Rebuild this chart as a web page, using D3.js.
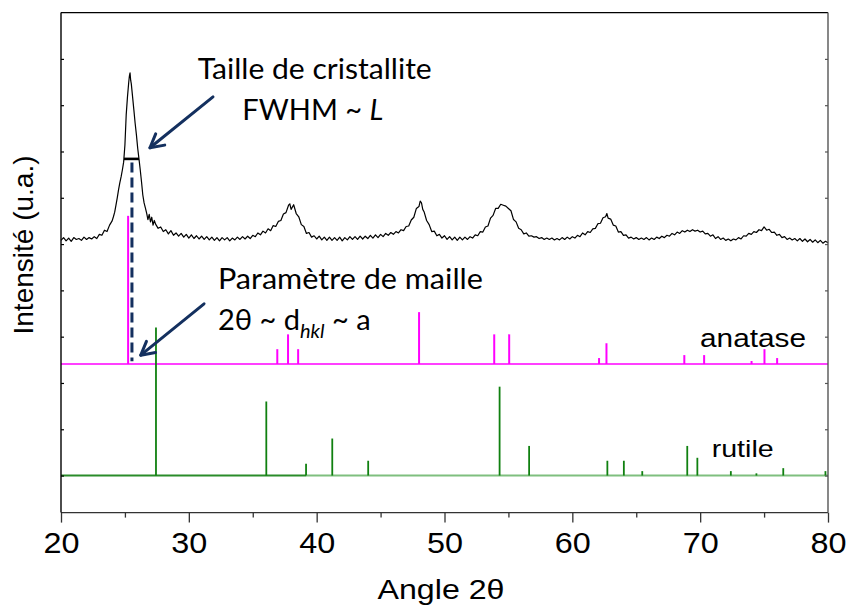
<!DOCTYPE html>
<html><head><meta charset="utf-8">
<script src="https://cdn.jsdelivr.net/npm/d3@7"></script>
<style>body{margin:0;background:#fff}svg{display:block}</style>
</head><body>
<svg id="chart" width="848" height="605"></svg>
<script>
// ---------- data ----------
const xTicks = [20, 30, 40, 50, 60, 70, 80];
const xMinorTicks = [25, 35, 45, 55, 65, 75];
const yTicks = [0, 100, 200, 300, 400, 500, 600, 700, 800, 900];

// measured XRD pattern [2theta, intensity (a.u.)]
const expPattern = [
 [20.0,508],[20.2,514],[20.4,507],[20.6,513],[20.8,506],[21.0,514],[21.2,510],[21.4,512],[21.6,508],[21.8,515],
 [22.0,510],[22.2,514],[22.4,511],[22.6,516],[22.8,512],[23.0,521],[23.2,519],[23.4,530],[23.6,527],[23.8,541],
 [24.0,550],[24.1,559],[24.2,569],[24.3,584],[24.4,600],[24.5,617],[24.6,632],[24.7,645],[24.8,660],[24.9,677],
 [25.0,714],[25.1,779],[25.2,818],[25.3,850],[25.35,863],[25.4,870],[25.45,854],[25.5,846],[25.6,818],[25.7,790],
 [25.8,761],[25.9,736],[26.0,707],[26.1,684],[26.2,660],[26.3,634],[26.4,606],[26.5,589],[26.6,578],[26.7,567],
 [26.8,553],[26.9,564],[27.0,548],[27.1,558],[27.2,541],[27.3,551],[27.4,543],[27.6,534],[27.8,537],[28.0,527],
 [28.2,531],[28.4,522],[28.6,529],[28.8,519],[29.0,524],[29.2,517],[29.4,523],[29.6,515],[29.8,521],[30.0,513],
 [30.2,520],[30.4,512],[30.6,518],[30.8,511],[31.0,517],[31.2,510],[31.4,516],[31.6,509],[31.8,515],[32.0,508],
 [32.2,514],[32.4,507],[32.6,514],[32.8,509],[33.0,514],[33.2,507],[33.4,513],[33.6,509],[33.8,515],[34.0,510],
 [34.2,516],[34.4,511],[34.6,517],[34.8,512],[35.0,519],[35.2,516],[35.4,524],[35.6,520],[35.8,528],[36.0,524],
 [36.2,533],[36.4,529],[36.6,540],[36.8,538],[37.0,549],[37.2,551],[37.4,565],[37.6,568],[37.8,584],[37.9,587],
 [38.0,575],[38.2,585],[38.4,566],[38.6,559],[38.8,542],[39.0,538],[39.2,523],[39.4,525],[39.6,515],[39.8,518],
 [40.0,511],[40.2,517],[40.4,509],[40.6,515],[40.8,508],[41.0,515],[41.2,508],[41.4,514],[41.6,508],[41.8,515],
 [42.0,507],[42.2,514],[42.4,509],[42.6,516],[42.8,510],[43.0,516],[43.2,510],[43.4,517],[43.6,511],[43.8,517],
 [44.0,512],[44.2,519],[44.4,513],[44.6,520],[44.8,514],[45.0,521],[45.2,516],[45.4,523],[45.6,519],[45.8,525],
 [46.0,521],[46.2,527],[46.4,524],[46.6,531],[46.8,529],[47.0,538],[47.2,539],[47.4,552],[47.6,558],[47.8,577],
 [48.0,581],[48.1,593],[48.2,589],[48.3,575],[48.4,570],[48.6,551],[48.8,542],[49.0,527],[49.2,528],[49.4,518],
 [49.6,521],[49.8,513],[50.0,518],[50.2,510],[50.4,516],[50.6,509],[50.8,515],[51.0,508],[51.2,515],[51.4,509],
 [51.6,515],[51.8,510],[52.0,516],[52.2,513],[52.4,520],[52.6,518],[52.8,527],[53.0,526],[53.2,537],[53.4,539],
 [53.6,556],[53.8,562],[54.0,577],[54.2,577],[54.4,586],[54.6,584],[54.8,582],[55.0,577],[55.2,572],[55.4,553],
 [55.6,548],[55.8,534],[56.0,531],[56.2,522],[56.4,524],[56.6,517],[56.8,518],[57.0,515],[57.2,516],[57.4,512],
 [57.6,514],[57.8,510],[58.0,513],[58.2,510],[58.4,513],[58.6,509],[58.8,512],[59.0,509],[59.2,514],[59.4,510],
 [59.6,515],[59.8,511],[60.0,516],[60.2,513],[60.4,519],[60.6,516],[60.8,524],[61.0,520],[61.2,527],[61.4,525],
 [61.6,533],[61.8,534],[62.0,544],[62.2,545],[62.4,557],[62.6,559],[62.7,566],[62.8,556],[63.0,554],[63.2,541],
 [63.4,539],[63.6,526],[63.8,527],[64.0,519],[64.2,520],[64.4,513],[64.6,515],[64.8,511],[65.0,514],[65.2,510],
 [65.4,513],[65.6,510],[65.8,514],[66.0,509],[66.2,513],[66.4,510],[66.6,515],[66.8,512],[67.0,517],[67.2,514],
 [67.4,519],[67.6,517],[67.8,523],[68.0,520],[68.2,526],[68.4,523],[68.6,529],[68.8,526],[69.0,530],[69.2,527],
 [69.4,531],[69.6,528],[69.8,530],[70.0,526],[70.2,528],[70.4,522],[70.6,523],[70.8,517],[71.0,520],[71.2,512],
 [71.4,516],[71.6,510],[71.8,513],[72.0,508],[72.2,511],[72.4,507],[72.6,511],[72.8,509],[73.0,514],[73.2,511],
 [73.4,518],[73.6,517],[73.8,523],[74.0,521],[74.2,527],[74.4,525],[74.6,531],[74.8,529],[75.0,537],[75.2,530],
 [75.4,532],[75.6,525],[75.8,526],[76.0,519],[76.2,521],[76.4,514],[76.6,516],[76.8,510],[77.0,513],[77.2,509],
 [77.4,512],[77.6,507],[77.8,512],[78.0,506],[78.2,511],[78.4,505],[78.6,510],[78.8,504],[79.0,509],[79.2,503],
 [79.4,508],[79.6,502],[79.8,506],[80.0,503]
];

// reference stick patterns (relative intensity)
const anataseAngle     = [25.25, 36.92, 37.76, 38.55, 48.01, 53.89, 55.06, 62.09, 62.67, 68.76, 70.31, 74.02, 75.03, 76.02];
const anataseIntensity = [100, 10, 20, 10, 35, 20, 20, 4, 14, 6, 6, 2, 10, 4];
const rutileAngle      = [27.43, 36.06, 39.17, 41.22, 44.03, 54.31, 56.62, 62.74, 64.03, 65.47, 68.99, 69.78, 72.40, 74.40, 76.50, 79.80];
const rutileIntensity  = [100, 50, 8, 25, 10, 60, 20, 10, 10, 3, 20, 12, 3, 1.5, 5, 3];
const anataseOffset = 241;
const rutileOffset = 0;

// annotation anchors (data units)
const fwhmRange = [24.93, 26.10];
const fwhmLevel = 684;
const peakCenter = 25.55;
const arrowCrystal = [[31.89, 818], [26.96, 708]];
const arrowLattice = [[31.19, 371], [26.24, 260]];

// ---------- drawing ----------
const svg = d3.select("#chart");
const L = 61, R = 828, T = 12.6, B = 512.6;
const x = d3.scaleLinear().domain([20, 80]).range([L, R]);
const y = d3.scaleLinear().domain([-80, 1000]).range([B, T]);
const stickH = d3.scaleLinear().domain([0, 100]).range([0, 320]);

const navy = "#14305f";

// anatase
svg.append("line").attr("x1", x(20)).attr("x2", x(80))
  .attr("y1", y(anataseOffset)).attr("y2", y(anataseOffset))
  .attr("stroke", "#ff00ff").attr("stroke-width", 1.5);
svg.append("g").selectAll("line").data(anataseAngle).join("line")
  .attr("x1", d => x(d)).attr("x2", d => x(d))
  .attr("y1", y(anataseOffset))
  .attr("y2", (d, i) => y(anataseOffset + stickH(anataseIntensity[i])))
  .attr("stroke", "#ff00ff").attr("stroke-width", 2);

// rutile
svg.append("line").attr("x1", x(20)).attr("x2", x(39.2))
  .attr("y1", y(rutileOffset)).attr("y2", y(rutileOffset))
  .attr("stroke", "#2a8c2a").attr("stroke-width", 2);
svg.append("line").attr("x1", x(39.2)).attr("x2", x(80))
  .attr("y1", y(rutileOffset)).attr("y2", y(rutileOffset))
  .attr("stroke", "#7fbf7f").attr("stroke-width", 2);
svg.append("g").selectAll("line").data(rutileAngle).join("line")
  .attr("x1", d => x(d)).attr("x2", d => x(d))
  .attr("y1", y(rutileOffset))
  .attr("y2", (d, i) => y(rutileOffset + stickH(rutileIntensity[i])))
  .attr("stroke", "#108010").attr("stroke-width", 1.8);

// experimental pattern
svg.append("path").datum(expPattern)
  .attr("d", d3.line().x(d => x(d[0])).y(d => y(d[1])))
  .attr("fill", "none").attr("stroke", "#000").attr("stroke-width", 1.2)
  .attr("stroke-linejoin", "round");

// FWHM bar and dashed line
svg.append("line").attr("x1", x(fwhmRange[0])).attr("x2", x(fwhmRange[1]))
  .attr("y1", y(fwhmLevel)).attr("y2", y(fwhmLevel))
  .attr("stroke", "#000").attr("stroke-width", 2.6);
svg.append("line").attr("x1", x(peakCenter)).attr("x2", x(peakCenter))
  .attr("y1", y(fwhmLevel - 8)).attr("y2", y(anataseOffset + 6))
  .attr("stroke", navy).attr("stroke-width", 3).attr("stroke-dasharray", "10,5");

// arrows
function arrow(a) {
  const x1 = x(a[0][0]), y1 = y(a[0][1]), x2 = x(a[1][0]), y2 = y(a[1][1]);
  const ang = Math.atan2(y2 - y1, x2 - x1), len = 15, spread = 0.5;
  const g = svg.append("g").attr("stroke", navy).attr("stroke-width", 3)
    .attr("fill", "none").attr("stroke-linecap", "round").attr("stroke-linejoin", "round");
  g.append("line").attr("x1", x1).attr("y1", y1).attr("x2", x2).attr("y2", y2);
  g.append("path").attr("d", d3.line()([
    [x2 - len * Math.cos(ang - spread), y2 - len * Math.sin(ang - spread)],
    [x2, y2],
    [x2 - len * Math.cos(ang + spread), y2 - len * Math.sin(ang + spread)]
  ]));
}
arrow(arrowCrystal);
arrow(arrowLattice);

// annotation text
const annFont = "Lato, 'Open Sans', sans-serif";
svg.append("text").attr("x", x(39.85)).attr("y", y(857)).attr("text-anchor", "middle")
  .attr("font-family", annFont).attr("font-size", 29).attr("textLength", 234)
  .attr("lengthAdjust", "spacingAndGlyphs").text("Taille de cristallite");
const t2 = svg.append("text").attr("x", x(39.7)).attr("y", y(768)).attr("text-anchor", "middle")
  .attr("font-family", annFont).attr("font-size", 29);
t2.append("tspan").text("FWHM ~ ");
t2.append("tspan").attr("font-style", "italic").text("L");
svg.append("text").attr("x", x(32.28)).attr("y", y(403))
  .attr("font-family", annFont).attr("font-size", 29).attr("textLength", 265)
  .attr("lengthAdjust", "spacingAndGlyphs").text("Paramètre de maille");
const t4 = svg.append("text").attr("x", x(32.28)).attr("y", y(314))
  .attr("font-family", annFont).attr("font-size", 29);
t4.append("tspan").text("2θ ~ d");
t4.append("tspan").attr("font-style", "italic").attr("font-size", 20).attr("dy", 8).text("hkl");
t4.append("tspan").attr("dy", -8).text(" ~ a");

// phase labels
svg.append("text").attr("x", x(69.99)).attr("y", y(278))
  .attr("font-family", "'Liberation Sans', Arial, sans-serif").attr("font-size", 26)
  .attr("textLength", 106).attr("lengthAdjust", "spacingAndGlyphs").text("anatase");
svg.append("text").attr("x", x(70.9)).attr("y", y(41))
  .attr("font-family", "'Liberation Sans', Arial, sans-serif").attr("font-size", 24)
  .attr("textLength", 62).attr("lengthAdjust", "spacingAndGlyphs").text("rutile");

// axes
const axisFont = "'Liberation Sans', Arial, sans-serif";
const gx = svg.append("g").attr("transform", `translate(0,${B})`)
  .call(d3.axisBottom(x).tickValues(xTicks).tickSize(10).tickSizeOuter(0).tickFormat(d3.format("d")));
gx.select(".domain").remove();
gx.selectAll("line").attr("stroke", "#333").attr("stroke-width", 1.3);
gx.selectAll("text").attr("y", 40.5).attr("dy", 0).attr("fill", "#000")
  .attr("font-family", axisFont).attr("font-size", 29)
  .attr("textLength", 36).attr("lengthAdjust", "spacingAndGlyphs");
const gxm = svg.append("g").attr("transform", `translate(0,${B})`)
  .call(d3.axisBottom(x).tickValues(xMinorTicks).tickSize(5).tickSizeOuter(0).tickFormat(""));
gxm.select(".domain").remove();
gxm.selectAll("line").attr("stroke", "#333").attr("stroke-width", 1.3);

const gl = svg.append("g").attr("transform", `translate(${L},0)`)
  .call(d3.axisRight(y).tickValues(yTicks).tickSize(3).tickSizeOuter(0).tickFormat(""));
gl.select(".domain").remove();
gl.selectAll("line").attr("stroke", "#000").attr("stroke-width", 1.2);
const gr = svg.append("g").attr("transform", `translate(${R},0)`)
  .call(d3.axisLeft(y).tickValues(yTicks).tickSize(3).tickSizeOuter(0).tickFormat(""));
gr.select(".domain").remove();
gr.selectAll("line").attr("stroke", "#555").attr("stroke-width", 1.2);

// frame
svg.append("line").attr("x1", L).attr("x2", R).attr("y1", T).attr("y2", T).attr("stroke", "#000").attr("stroke-width", 1.4);
svg.append("line").attr("x1", L).attr("x2", R).attr("y1", B).attr("y2", B).attr("stroke", "#333").attr("stroke-width", 1.4);
svg.append("line").attr("x1", L).attr("x2", L).attr("y1", T).attr("y2", B).attr("stroke", "#000").attr("stroke-width", 1.4);
svg.append("line").attr("x1", R).attr("x2", R).attr("y1", T).attr("y2", B).attr("stroke", "#555").attr("stroke-width", 1.4);

// axis titles
svg.append("text").attr("x", 441).attr("y", 599).attr("text-anchor", "middle")
  .attr("font-family", axisFont).attr("font-size", 28)
  .attr("textLength", 127).attr("lengthAdjust", "spacingAndGlyphs").text("Angle 2θ");
svg.append("text").attr("transform", "translate(33,245) rotate(-90)").attr("text-anchor", "middle")
  .attr("font-family", axisFont).attr("font-size", 28).text("Intensité (u.a.)");
</script>
</body></html>
